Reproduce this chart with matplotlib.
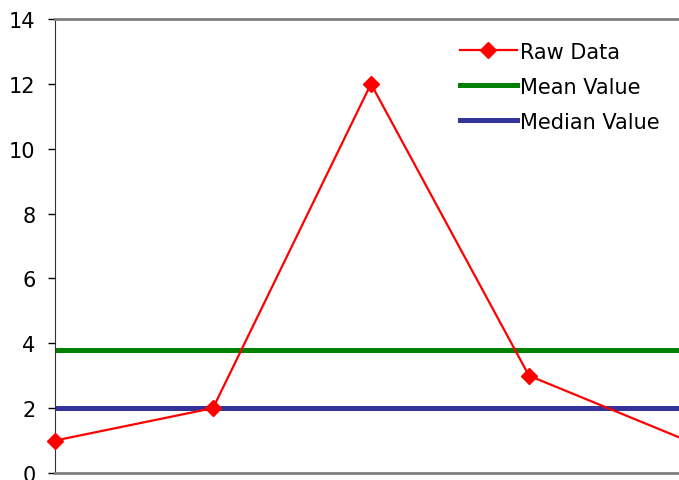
import matplotlib.pyplot as plt

# data
raw = [1, 2, 12, 3, 1]
mean_val = sum(raw) / len(raw)
median_val = sorted(raw)[len(raw) // 2]

fig = plt.figure(figsize=(6.79, 4.81), dpi=100)
# plot area runs past the right edge, like the cropped original
ax = fig.add_axes([55 / 679, 7 / 481, 632 / 679, 454 / 481])

ax.plot(range(len(raw)), raw, color='#ff0000', lw=1.6, marker='D', ms=8,
        label='Raw Data', zorder=3, clip_on=False)
ax.axhline(mean_val, color='#008000', lw=3.6, label='Mean Value')
ax.axhline(median_val, color='#333399', lw=3.6, label='Median Value')

ax.set_xlim(0, len(raw) - 1)
ax.set_ylim(0, 14)
ax.set_yticks(range(0, 15, 2))
ax.set_xticks([])
ax.tick_params(axis='y', labelsize=15, length=5, width=1, direction='out', pad=9)

for s in ['top', 'bottom']:
    ax.spines[s].set_color('#808080')
    ax.spines[s].set_linewidth(2)
ax.spines['right'].set_visible(False)
ax.spines['left'].set_color('#333333')

leg = ax.legend(loc='upper left', bbox_to_anchor=(441 / 679, 457 / 481),
                bbox_transform=fig.transFigure, frameon=False, fontsize=15,
                handlelength=2.75, handletextpad=0.15, labelspacing=0.72)

plt.savefig('out.png', dpi=100)
